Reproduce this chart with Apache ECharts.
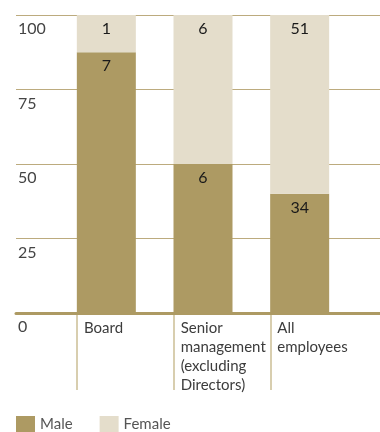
<!DOCTYPE html>
<html>
<head>
<meta charset="utf-8">
<script src="https://cdn.jsdelivr.net/npm/echarts@6/dist/echarts.min.js"></script>
<style>html,body{margin:0;padding:0;background:#fff;}#c{width:380px;height:432px;}</style>
</head>
<body>
<div id="c"></div>
<script>
const categories = ['Board', 'Senior\nmanagement\n(excluding\nDirectors)', 'All\nemployees'];
const maleCounts = [7, 6, 34];
const femaleCounts = [1, 6, 51];
const yTicks = [0, 25, 50, 75, 100];

const totals = maleCounts.map((m, i) => m + femaleCounts[i]);
const malePct = maleCounts.map((m, i) => m / totals[i] * 100);
const femalePct = femaleCounts.map((f, i) => f / totals[i] * 100);

const MALE = '#ad9a63';
const FEMALE = '#e4ddcb';
const FONT = 'Lato';
const TOP = 15, BOTTOM = 119;

const chart = echarts.init(document.getElementById('c'), null, {renderer: 'canvas'});
const labelStyle = (counts) => ({
  show: true, position: 'insideTop', distance: 6,
  fontFamily: FONT, fontSize: 16, color: '#1a1a1a',
  formatter: p => String(counts[p.dataIndex])
});

chart.setOption({
  animation: false,
  backgroundColor: '#fff',
  grid: [
    {left: 16, right: 0, top: TOP, bottom: BOTTOM},
    {left: 58, width: 290, top: TOP, bottom: BOTTOM},
    {left: 77, width: 193.3, top: TOP, bottom: BOTTOM}
  ],
  xAxis: [
    {gridIndex: 0, type: 'category', data: ['x'], axisLine: {show: true, lineStyle: {color: MALE, width: 3}},
     axisTick: {show: false}, axisLabel: {show: false}, z: 5},
    {gridIndex: 1, type: 'category', data: categories, axisLine: {show: false}, axisTick: {show: false}, axisLabel: {show: false}},
    {gridIndex: 2, type: 'category', data: categories, boundaryGap: false,
     axisLine: {show: false},
     axisTick: {show: true, length: 77, lineStyle: {color: '#d8ceaf', width: 2}},
     axisLabel: {show: true, interval: 0, align: 'left', verticalAlign: 'top', margin: 6,
       padding: [0, 0, 0, 7], fontFamily: FONT, fontSize: 15, lineHeight: 19, color: '#3c3c3c'}}
  ],
  yAxis: [
    {gridIndex: 0, type: 'value', min: 0, max: 100, interval: 25,
     axisLine: {show: false}, axisTick: {show: false},
     splitLine: {show: true, lineStyle: {color: '#bcab7e', width: 1}},
     axisLabel: {show: true, inside: true, margin: 2, verticalAlign: 'top', padding: [6, 0, 0, 0],
       fontFamily: FONT, fontSize: 16, color: '#444',
       formatter: v => yTicks.includes(v) ? String(v) : ''}},
    {gridIndex: 1, type: 'value', min: 0, max: 100, show: false},
    {gridIndex: 2, type: 'value', min: 0, max: 100, show: false}
  ],
  legend: {
    data: ['Male', 'Female'], left: 11, top: 411, icon: 'rect', itemWidth: 19, itemHeight: 16,
    itemGap: 27, textStyle: {fontFamily: FONT, fontSize: 15, color: '#555'}
  },
  series: [
    {name: 'Male', type: 'bar', xAxisIndex: 1, yAxisIndex: 1, stack: 's', barWidth: 59,
     data: malePct, itemStyle: {color: MALE}, label: labelStyle(maleCounts)},
    {name: 'Female', type: 'bar', xAxisIndex: 1, yAxisIndex: 1, stack: 's', barWidth: 59,
     data: femalePct, itemStyle: {color: FEMALE}, label: labelStyle(femaleCounts)}
  ]
});
</script>
</body>
</html>
